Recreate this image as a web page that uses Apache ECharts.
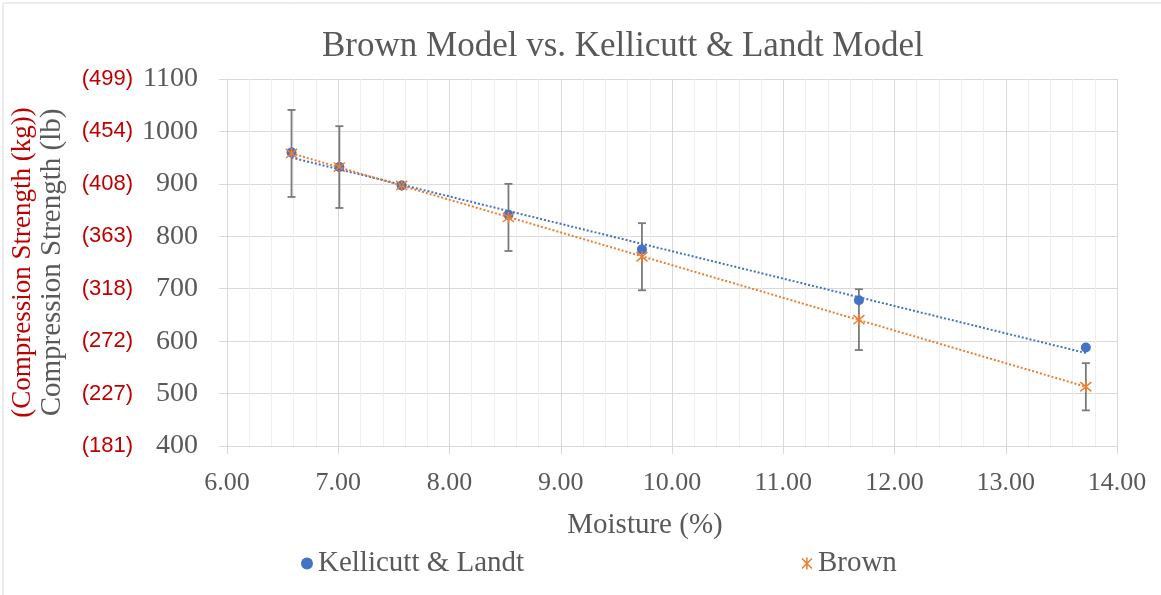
<!DOCTYPE html>
<html>
<head>
<meta charset="utf-8">
<script src="https://cdn.jsdelivr.net/npm/echarts@6/dist/echarts.min.js"></script>
<style>
  html, body { margin: 0; padding: 0; background: #fff; }
  #chart { width: 1161px; height: 595px; }
</style>
</head>
<body>
<div id="chart"></div>
<script>
// moisture (%) for each sample
const moisture = [6.58, 7.01, 7.57, 8.53, 9.73, 11.68, 13.72];
// compression strength (lb)
const kellicutt = [960, 932, 897, 841, 775, 678, 588];
const brown = [958, 932, 897, 836, 761, 641, 513];
// +/- error on the Brown values
const brownError = [83, 78, 0, 64, 64, 58, 45];
// kg equivalents shown beside the lb ticks (400 .. 1100)
const kgLabels = ["(181)", "(227)", "(272)", "(318)", "(363)", "(408)", "(454)", "(499)"];

const serif = "'Liberation Serif', 'Times New Roman', serif";
const grey = "#595959";
const blue = "#4472C4";
const orange = "#ED7D31";
const starPath = "path://M0,0L10,10M10,0L0,10M5,-1L5,11";

function linearFit(xs, ys) {
  const n = xs.length;
  const mx = xs.reduce((a, b) => a + b, 0) / n;
  const my = ys.reduce((a, b) => a + b, 0) / n;
  let sxy = 0, sxx = 0;
  xs.forEach((x, i) => {
    sxy += (x - mx) * (ys[i] - my);
    sxx += (x - mx) * (x - mx);
  });
  const slope = sxy / sxx;
  const x0 = xs[0], x1 = xs[n - 1];
  return [[x0, my + slope * (x0 - mx)], [x1, my + slope * (x1 - mx)]];
}

const chart = echarts.init(document.getElementById("chart"));
chart.setOption({
  animation: false,
  title: {
    text: "Brown Model vs. Kellicutt & Landt Model",
    left: 317,
    top: 24,
    textStyle: { fontFamily: serif, fontSize: 35, fontWeight: "normal", color: grey },
  },
  graphic: [
    { type: "line", silent: true, shape: { x1: 3, y1: 3, x2: 1161, y2: 3 }, style: { stroke: "#d9d9d9", lineWidth: 1 } },
    { type: "line", silent: true, shape: { x1: 3, y1: 3, x2: 3, y2: 595 }, style: { stroke: "#d9d9d9", lineWidth: 1 } },
  ],
  legend: {
    bottom: 12,
    left: 296,
    itemGap: 277,
    itemWidth: 12,
    itemHeight: 12,
    textStyle: { fontFamily: serif, fontSize: 29, color: grey },
    data: [
      { name: "Kellicutt & Landt", icon: "circle", itemStyle: { color: blue } },
      { name: "Brown", icon: starPath, itemStyle: { color: "transparent", borderColor: orange, borderWidth: 1.5 } },
    ],
  },
  grid: { left: 227, right: 44, top: 79, bottom: 149 },
  xAxis: {
    type: "value",
    min: 6,
    max: 14,
    interval: 1,
    name: "Moisture (%)",
    nameLocation: "middle",
    nameGap: 65,
    nameTextStyle: { fontFamily: serif, fontSize: 29, color: grey, padding: [0, 54, 0, 0] },
    axisLine: { lineStyle: { color: "#d9d9d9" } },
    axisTick: { show: true, length: 8, lineStyle: { color: "#d9d9d9" } },
    axisLabel: {
      formatter: (v) => v.toFixed(2),
      fontFamily: serif,
      fontSize: 26,
      color: grey,
      margin: 24,
    },
    splitLine: { show: true, lineStyle: { color: "#d9d9d9" } },
    minorTick: { show: false, splitNumber: 5 },
    minorSplitLine: { show: true, lineStyle: { color: "#efefef" } },
  },
  yAxis: [
    {
      type: "value",
      min: 400,
      max: 1100,
      interval: 100,
      name: "Compression Strength (lb)",
      nameLocation: "middle",
      nameGap: 160,
      nameTextStyle: { fontFamily: serif, fontSize: 29, color: grey },
      axisLine: { show: true, lineStyle: { color: "#d9d9d9" } },
      axisTick: { show: true, length: 8, lineStyle: { color: "#d9d9d9" } },
      axisLabel: {
        margin: 29,
        formatter: (v) => "{kg|" + kgLabels[(v - 400) / 100] + "}{lb|" + v + "}",
        rich: {
          kg: { fontFamily: "'Liberation Sans', Arial, sans-serif", fontSize: 22, color: "#C00000" },
          lb: { fontFamily: serif, fontSize: 28, color: grey, width: 65, align: "right" },
        },
      },
      splitLine: { show: true, lineStyle: { color: "#d9d9d9" } },
    },
    {
      type: "value",
      min: 400,
      max: 1100,
      interval: 100,
      position: "left",
      name: "(Compression Strength (kg))",
      nameLocation: "middle",
      nameGap: 191,
      nameTextStyle: { fontFamily: serif, fontSize: 27, color: "#C00000" },
      axisLine: { show: false },
      axisTick: { show: false },
      axisLabel: { show: false },
      splitLine: { show: false },
    },
  ],
  series: [
    {
      name: "Brown error",
      type: "custom",
      z: 1,
      data: moisture.map((x, i) => [x, brown[i] - brownError[i], brown[i] + brownError[i]]),
      renderItem: (params, api) => {
        if (api.value(2) - api.value(1) <= 0) return;
        const lo = api.coord([api.value(0), api.value(1)]);
        const hi = api.coord([api.value(0), api.value(2)]);
        const cap = 4;
        const style = { stroke: "#7a7a7a", lineWidth: 1.8 };
        return {
          type: "group",
          children: [
            { type: "line", shape: { x1: lo[0], y1: lo[1], x2: hi[0], y2: hi[1] }, style },
            { type: "line", shape: { x1: lo[0] - cap, y1: lo[1], x2: lo[0] + cap, y2: lo[1] }, style },
            { type: "line", shape: { x1: hi[0] - cap, y1: hi[1], x2: hi[0] + cap, y2: hi[1] }, style },
          ],
        };
      },
    },
    {
      name: "Kellicutt & Landt",
      type: "scatter",
      z: 3,
      symbol: "circle",
      symbolSize: 10,
      itemStyle: { color: blue, opacity: 1 },
      data: moisture.map((x, i) => [x, kellicutt[i]]),
    },
    {
      name: "Brown",
      type: "scatter",
      z: 4,
      symbol: starPath,
      symbolSize: 11,
      itemStyle: { color: "transparent", borderColor: orange, borderWidth: 1.5, opacity: 1 },
      data: moisture.map((x, i) => [x, brown[i]]),
    },
    {
      name: "Kellicutt trend",
      type: "line",
      z: 5,
      symbol: "none",
      lineStyle: { color: blue, width: 2, type: [2, 2] },
      data: linearFit(moisture, kellicutt),
    },
    {
      name: "Brown trend",
      type: "line",
      z: 5,
      symbol: "none",
      lineStyle: { color: orange, width: 2, type: [2, 2] },
      data: linearFit(moisture, brown),
    },
  ],
});
</script>
</body>
</html>
